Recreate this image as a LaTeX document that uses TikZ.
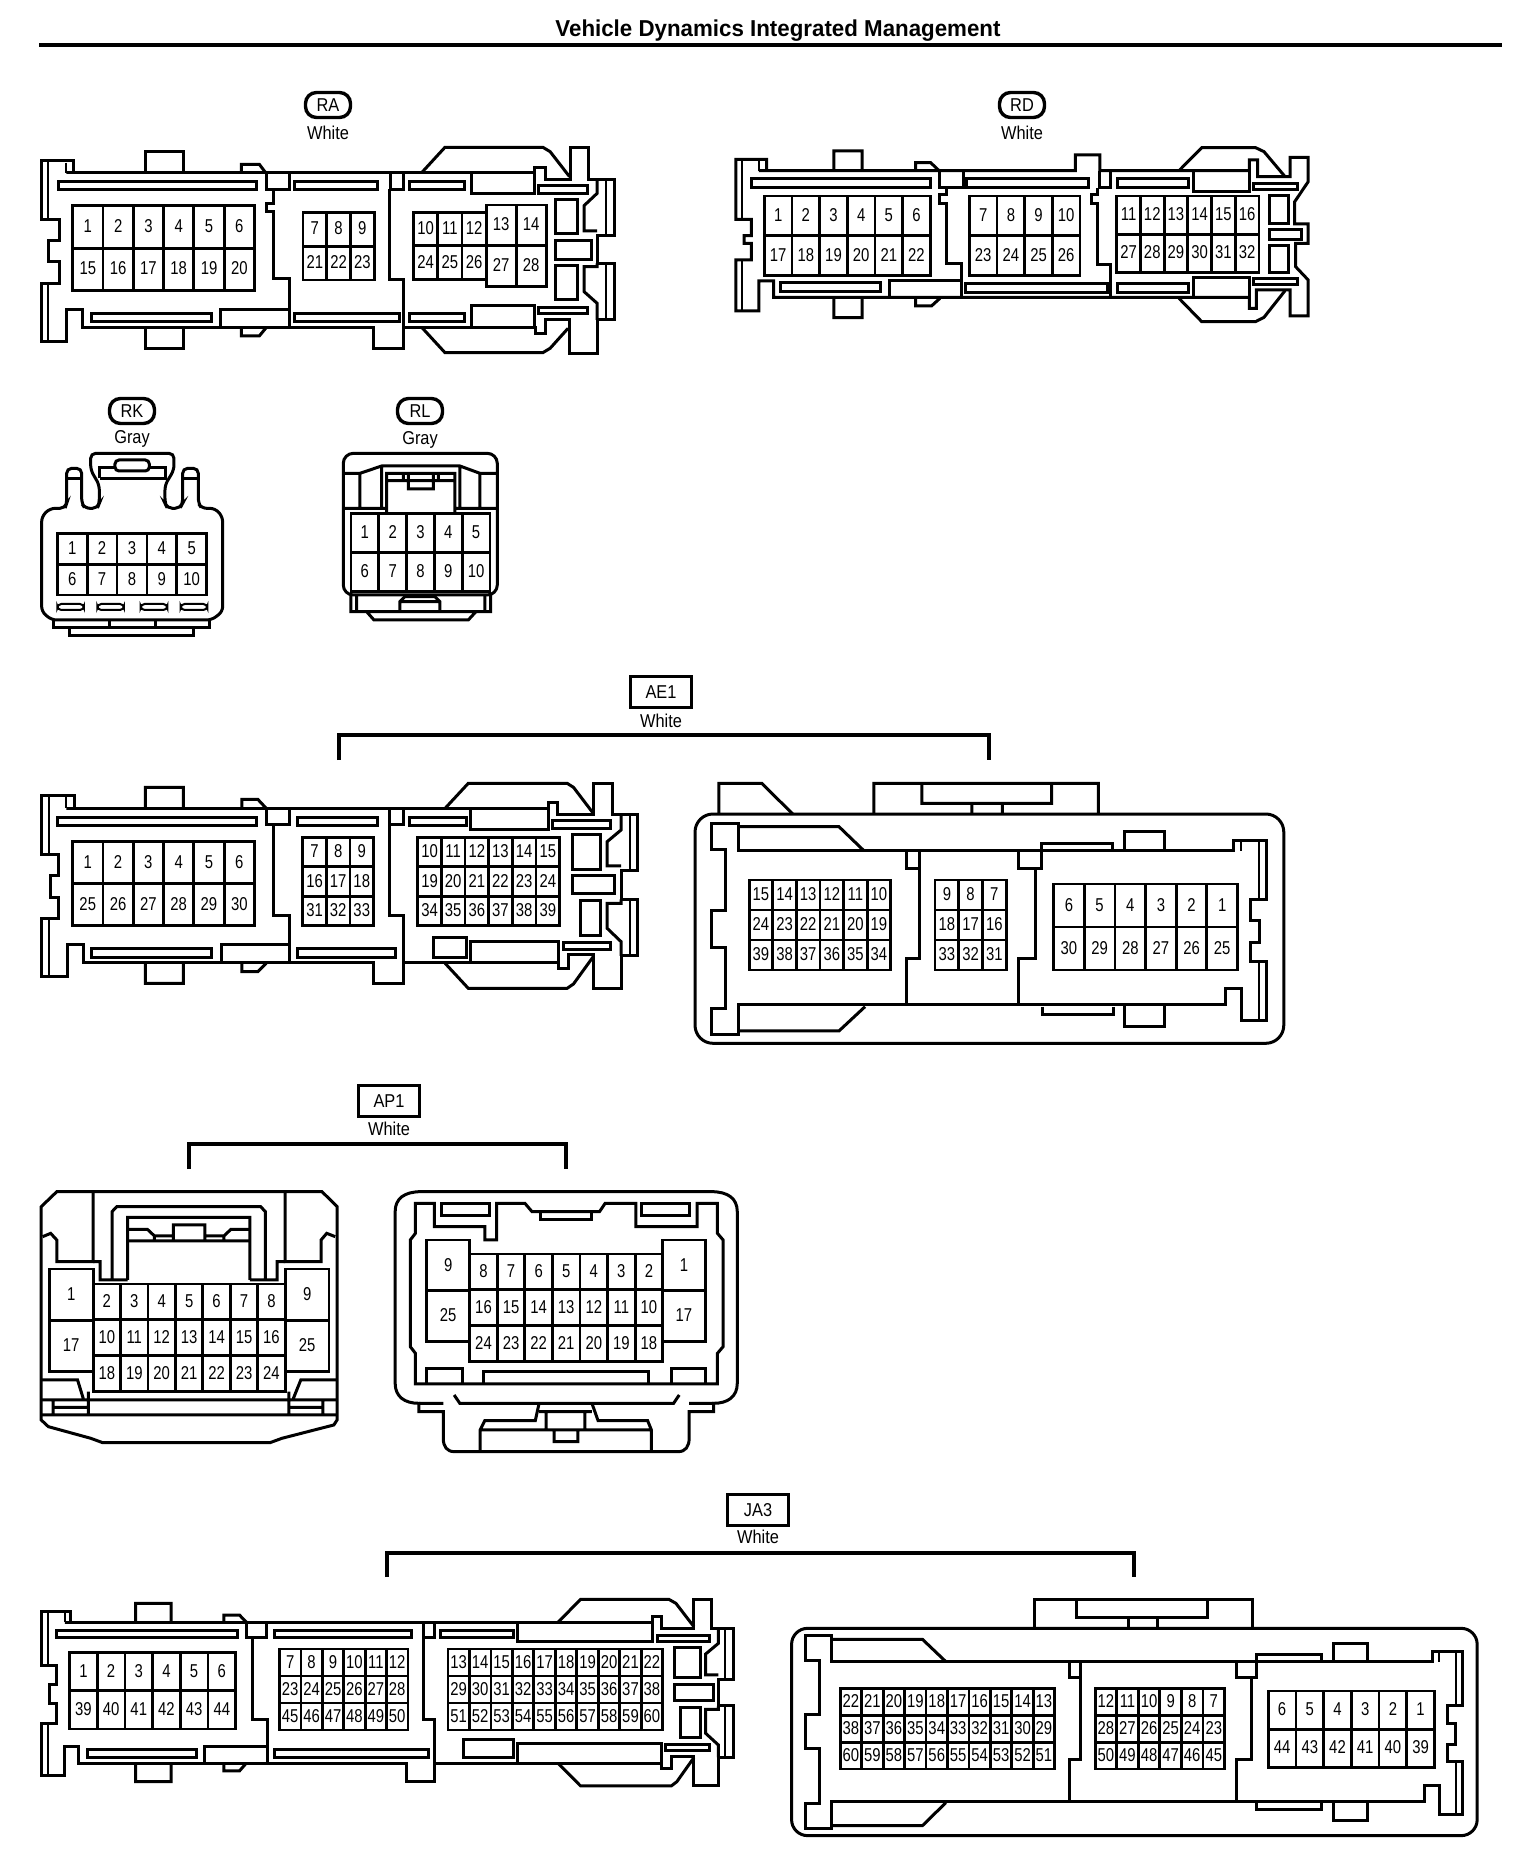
\documentclass[tikz,border=0pt]{standalone}
\usepackage{fontspec}
\setmainfont{Liberation Sans}
\newfontfamily\pinfont[FakeStretch=0.8]{Liberation Sans}
\newfontfamily\lblfont[FakeStretch=0.88]{Liberation Sans}
\newfontfamily\ttlfont[FakeStretch=0.97]{Liberation Sans}
\newcount\pinnum
\tikzset{
  conn/.style={line width=1.5pt,line join=miter},
  thinl/.style={line width=1pt},
  gridl/.style={line width=1.4pt},
  bracket/.style={line width=1.75pt},
  pinlab/.style={inner sep=0pt,yshift=0.4pt,font=\pinfont\fontsize{9.3}{10}\selectfont},
  collab/.style={inner sep=0pt,font=\lblfont\fontsize{9.3}{10}\selectfont},
  roundtag/.style={draw,line width=1.7pt,rounded corners=5.5pt,minimum width=22.5pt,minimum height=12.5pt,inner sep=0pt,font=\lblfont\fontsize{9.3}{10}\selectfont},
  boxtag/.style={draw,line width=1.5pt,minimum width=30.5pt,minimum height=15.5pt,inner sep=0pt,font=\lblfont\fontsize{9.3}{10}\selectfont},
}
\newcommand\pingrid[7]{%
  \draw[gridl] (#1,#2) rectangle (#3,#4);
  \foreach \k in {1,...,#5}{\ifnum\k<#5\relax
    \pgfmathsetmacro\lx{#1+\k*(#3-#1)/#5}\draw[gridl] (\lx,#2) -- (\lx,#4);\fi}
  \foreach \k in {1,...,#6}{\ifnum\k<#6\relax
    \pgfmathsetmacro\ly{#2+\k*(#4-#2)/#6}\draw[gridl] (#1,\ly) -- (#3,\ly);\fi}
  \foreach \l [count=\i from 0] in {#7}{%
    \pgfmathsetmacro\cx{#1+(mod(\i,#5)+0.5)*(#3-#1)/#5}%
    \pgfmathsetmacro\cy{#2+(int(\i/#5)+0.5)*(#4-#2)/#6}%
    \global\advance\pinnum by 1
    \node[pinlab] (pin\the\pinnum) at (\cx,\cy) {\l};}%
}
\begin{document}
\begin{tikzpicture}[x=0.5pt,y=-0.5pt]
\useasboundingbox (0,0) rectangle (1520,1868);
\fill[white] (0,0) rectangle (1520,1868);
% title
\node[inner sep=0pt,font=\ttlfont\bfseries\fontsize{11.5}{13}\selectfont] (title) at (778,31) {Vehicle Dynamics Integrated Management};
\coordinate (ruleL) at (39,45); \coordinate (ruleR) at (1502,45);
\draw[line width=1.75pt] (ruleL) -- (ruleR);
% tags
\node[roundtag] (tagRA) at (328,105) {RA}; \node[collab] (colRA) at (328,133) {White};
\node[roundtag] (tagRD) at (1022,105) {RD}; \node[collab] (colRD) at (1022,133) {White};
\node[roundtag] (tagRK) at (132,411) {RK}; \node[collab] (colRK) at (132,439) {Gray};
\node[roundtag] (tagRL) at (420,411) {RL}; \node[collab] (colRL) at (420,440) {Gray};
\node[boxtag] (tagAE) at (661,692) {AE1}; \node[collab] (colAE) at (661,721) {White};
\node[boxtag] (tagAP) at (389,1101) {AP1}; \node[collab] (colAP) at (389,1129) {White};
\node[boxtag] (tagJA) at (758,1510) {JA3}; \node[collab] (colJA) at (758,1537) {White};
% brackets
\coordinate (a1) at (339,760); \coordinate (a2) at (339,735); \coordinate (a3) at (989,735); \coordinate (a4) at (989,760);
\draw[bracket] (a1) -- (a2) -- (a3) -- (a4);
\coordinate (b1) at (189,1169); \coordinate (b2) at (189,1144); \coordinate (b3) at (566,1144); \coordinate (b4) at (566,1169);
\draw[bracket] (b1) -- (b2) -- (b3) -- (b4);
\coordinate (c1) at (387,1577); \coordinate (c2) at (387,1553); \coordinate (c3) at (1134,1553); \coordinate (c4) at (1134,1577);
\draw[bracket] (c1) -- (c2) -- (c3) -- (c4);

% ---------- RA
\begin{scope}[shift={(0,0)},xscale=0.4847,yscale=0.3333]
\draw[conn] (137,518)--(152,518)--(152,482)--(85,482)--(85,660)--(122,660)--(122,722)--(100,722)--(100,785)--(122,785)--(122,850)--(85,850)--(85,1025)--(137,1025)--(137,928)--(170,928)--(170,982)--(770,982)--(770,1045)--(832,1045)--(832,982)--(1105,982)--(1105,1000)--(1125,1000)--(1125,958)--(1175,958)--(1175,1060)--(1232,1060)--(1232,960)--(1268,960)--(1268,790)--(1232,790)--(1232,708)--(1268,708)--(1268,538)--(1215,538)--(1215,442)--(1178,442)--(1178,540)--(1125,540)--(1125,503)--(1103,503)--(1103,518)--cycle;
\draw[thinl] (100,485)--(100,660) (100,850)--(100,1025) (137,488)--(137,518) (1250,540)--(1250,708) (1250,790)--(1250,960);
\draw[conn] (1232,540)--(1232,580)--(1205,617)--(1205,693)--(1232,693) (1232,790)--(1232,800)--(1205,800)--(1205,875)--(1232,910)--(1232,960);
\draw[conn] (870,518)--(918,442)--(1120,442)--(1135,455)--(1175,530) (870,982)--(918,1058)--(1120,1058)--(1135,1045)--(1172,985);
\draw[conn] (498,518)--(498,493)--(535,493)--(548,518) (498,982)--(498,1008)--(535,1008)--(548,985);
\draw[conn] (300,518)--(300,455)--(378,455)--(378,518) (300,982)--(300,1045)--(378,1045)--(378,982);
\draw[conn] (120,545) rectangle (530,568) (188,940) rectangle (436,965) (607,545) rectangle (778,568) (607,940) rectangle (825,965) (845,545) rectangle (958,568) (845,940) rectangle (958,965) (1112,558) rectangle (1212,580) (1112,922) rectangle (1212,942) (1147,598) rectangle (1192,702) (1147,723) rectangle (1220,778) (1147,797) rectangle (1192,900);
\draw[conn] (973,522)--(973,580)--(1103,580)--(1103,522) (973,980)--(973,918)--(1103,918)--(1103,980);
\draw[conn] (550,518)--(550,568)--(597,568)--(597,518) (565,568)--(565,612)--(550,612)--(550,635)--(565,635)--(565,835)--(597,835)--(597,982) (455,982)--(455,928)--(597,928);
\draw[conn] (805,518)--(805,568)--(832,568)--(832,518) (803,568)--(803,838)--(832,838)--(832,982);
\pingrid{150}{617}{525}{872}{6}{2}{1,2,3,4,5,6,15,16,17,18,19,20}
\pingrid{625}{637}{772}{840}{3}{2}{7,8,9,21,22,23}
\pingrid{853}{637}{1003}{838}{3}{2}{10,11,12,24,25,26}
\pingrid{1003}{615}{1127}{860}{2}{2}{13,14,27,28}
\end{scope}

% ---------- RD
\begin{scope}[shift={(700,80)},xscale=0.4209,yscale=0.3333]
\draw[conn] (140,272)--(158,272)--(158,238)--(85,238)--(85,418)--(122,418)--(122,467)--(105,467)--(105,490)--(122,490)--(122,540)--(85,540)--(85,693)--(140,693)--(140,603)--(175,603)--(175,652)--(1305,652)--(1305,685)--(1322,685)--(1322,630)--(1402,630)--(1402,708)--(1445,708)--(1445,600)--(1415,560)--(1415,490)--(1445,490)--(1445,432)--(1413,432)--(1413,365)--(1445,305)--(1445,232)--(1402,232)--(1402,290)--(1325,290)--(1325,240)--(1305,240)--(1305,272)--(950,272)--(950,225)--(892,225)--(892,272)--cycle;
\draw[thinl] (100,240)--(100,418) (100,540)--(100,693) (140,240)--(140,272);
\draw[conn] (1138,272)--(1192,203)--(1320,203)--(1340,215)--(1390,290) (1138,655)--(1192,725)--(1320,725)--(1340,712)--(1390,632);
\draw[conn] (318,272)--(318,213)--(385,213)--(385,272) (318,652)--(318,713)--(385,713)--(385,652) (512,272)--(512,248)--(548,248)--(568,272) (512,652)--(512,678)--(550,678)--(570,655);
\draw[conn] (122,297) rectangle (548,323) (192,608) rectangle (430,635) (632,297) rectangle (922,323) (630,610) rectangle (968,637) (992,297) rectangle (1160,323) (992,610) rectangle (1160,637) (1315,310) rectangle (1420,330) (1315,597) rectangle (1420,615) (1352,348) rectangle (1398,430) (1352,448) rectangle (1430,478) (1352,497) rectangle (1398,578);
\draw[conn] (1173,272)--(1173,335)--(1305,335)--(1305,272) (1173,652)--(1173,592)--(1305,592)--(1305,652);
\draw[conn] (568,272)--(568,323)--(625,323)--(625,272) (585,323)--(585,345)--(568,345)--(568,372)--(585,372)--(585,550)--(622,550)--(622,652) (450,652)--(450,603)--(622,603);
\draw[conn] (948,272)--(948,323)--(975,323)--(975,272) (945,323)--(945,345)--(930,345)--(930,372)--(945,372)--(945,555)--(975,555)--(975,652);
\pingrid{153}{348}{547}{587}{6}{2}{1,2,3,4,5,6,17,18,19,20,21,22}
\pingrid{640}{348}{903}{587}{4}{2}{7,8,9,10,23,24,25,26}
\pingrid{990}{348}{1328}{577}{6}{2}{11,12,13,14,15,16,27,28,29,30,31,32}
\end{scope}

% ---------- RK / RL
\begin{scope}[shift={(20,390)},scale=0.3333]
\draw[conn,rounded corners=2.5pt] (65,380)--(90,355)--(135,355)--(140,340)--(140,235)--(185,235)--(185,340)--(195,355)--(232,355)--(238,340)--(238,285)--(212,240)--(212,190)--(462,190)--(462,240)--(435,285)--(435,340)--(442,355)--(480,355)--(488,340)--(488,235)--(535,235)--(535,340)--(545,355)--(585,355)--(608,380)--(608,665)--(575,690)--(95,690)--(65,665)--cycle;
\draw[conn] (145,265)--(185,265) (488,265)--(535,265) (240,265)--(240,232)--(285,232) (388,232)--(438,232)--(438,265)--(240,265);
\draw[conn,rounded corners=2pt] (285,210) rectangle (388,243);
\draw[thinl,rounded corners=2pt] (112,642) rectangle (192,660) (232,642) rectangle (312,660) (362,642) rectangle (442,660) (482,642) rectangle (562,660);
\draw[conn] (100,690)--(100,712)--(570,712)--(570,690) (150,712)--(150,737)--(522,737)--(522,712) (268,690)--(268,712) (408,690)--(408,712);
\pingrid{112}{430}{560}{615}{5}{2}{1,2,3,4,5,6,7,8,9,10}
\draw[conn,rounded corners=5pt] (970,190) rectangle (1432,615);
\draw[conn] (970,250)--(1020,250)--(1085,228)--(1320,228)--(1380,250)--(1432,250) (1020,250)--(1020,355) (1085,228)--(1085,355) (1320,228)--(1320,355) (1380,250)--(1380,355) (970,355)--(1100,355) (1305,355)--(1432,355) (1100,368)--(1100,250)--(1305,250)--(1305,368) (1100,272)--(1305,272) (1165,250)--(1165,297)--(1240,297)--(1240,250) (1150,250)--(1150,272) (1255,250)--(1255,272);
\pingrid{993}{370}{1410}{605}{5}{2}{1,2,3,4,5,6,7,8,9,10}
\draw[conn] (993,615)--(993,665)--(1412,665)--(1412,615) (1010,615)--(1010,665) (1395,615)--(1395,665) (1040,665)--(1062,690)--(1345,690)--(1368,665) (1140,665)--(1140,635)--(1155,620)--(1245,620)--(1260,635)--(1260,665) (1140,635)--(1260,635);
\end{scope}

% ---------- AE1 left
\begin{scope}[shift={(20,660)},xscale=0.4209,yscale=0.3333]
\draw[conn] (110,445)--(130,445)--(130,408)--(52,408)--(52,585)--(92,585)--(92,648)--(72,648)--(72,712)--(92,712)--(92,775)--(52,775)--(52,950)--(112,950)--(112,855)--(150,855)--(150,908)--(840,908)--(840,972)--(912,972)--(912,908)--(1280,908)--(1280,925)--(1303,925)--(1303,885)--(1362,885)--(1362,985)--(1428,985)--(1428,888)--(1468,888)--(1468,718)--(1428,718)--(1428,632)--(1468,632)--(1468,465)--(1408,465)--(1408,370)--(1362,370)--(1362,465)--(1278,465)--(1278,427)--(1255,427)--(1255,445)--cycle;
\draw[thinl] (1450,465)--(1450,632) (1450,718)--(1450,888) (68,410)--(68,585) (68,775)--(68,950) (110,410)--(110,445);
\draw[conn] (1428,465)--(1428,510)--(1395,545)--(1395,618)--(1428,618) (1428,718)--(1428,730)--(1395,730)--(1395,805)--(1428,845)--(1428,888);
\draw[conn] (1010,445)--(1065,370)--(1300,370)--(1315,382)--(1362,460) (1010,910)--(1065,985)--(1300,985)--(1315,972)--(1362,890);
\draw[conn] (298,445)--(298,382)--(388,382)--(388,445) (298,908)--(298,970)--(388,970)--(388,908) (527,445)--(527,418)--(565,418)--(585,445) (527,908)--(527,935)--(565,935)--(585,910);
\draw[conn] (90,472) rectangle (562,497) (170,865) rectangle (456,893) (660,472) rectangle (850,497) (660,865) rectangle (893,893) (925,472) rectangle (1060,497) (1265,483) rectangle (1402,507) (1292,848) rectangle (1402,870) (982,832) rectangle (1060,892) (1312,525) rectangle (1380,628) (1312,648) rectangle (1412,702) (1332,723) rectangle (1380,828);
\draw[conn] (1070,447)--(1070,508)--(1255,508)--(1255,447) (1070,908)--(1070,845)--(1280,845)--(1280,908);
\draw[conn] (585,445)--(585,495)--(640,495)--(640,445) (603,495)--(603,767)--(640,767)--(640,908) (478,908)--(478,855)--(640,855);
\draw[conn] (878,445)--(878,495)--(912,495)--(912,445) (878,495)--(878,767)--(912,767)--(912,908);
\pingrid{125}{545}{557}{797}{6}{2}{1,2,3,4,5,6,25,26,27,28,29,30}
\pingrid{672}{532}{840}{797}{3}{3}{7,8,9,16,17,18,31,32,33}
\pingrid{945}{532}{1282}{797}{6}{3}{10,11,12,13,14,15,19,20,21,22,23,24,34,35,36,37,38,39}
\end{scope}

% ---------- AE1 right
\begin{scope}[shift={(680,760)},xscale=0.3954,yscale=0.3333]
\draw[conn,rounded corners=9pt] (38,162) rectangle (1527,850);
\draw[conn] (98,162)--(98,70)--(207,70)--(285,162) (490,162)--(490,70)--(1058,70)--(1058,162) (612,70)--(612,130)--(940,130)--(940,70) (738,130)--(738,162) (815,130)--(815,162);
\draw[conn] (148,272)--(148,190)--(80,190)--(80,268)--(115,268)--(115,452)--(80,452)--(80,562)--(115,562)--(115,745)--(80,745)--(80,825)--(148,825)--(148,735)--(1380,735)--(1380,687)--(1420,687)--(1420,782)--(1483,782)--(1483,605)--(1443,605)--(1443,548)--(1465,548)--(1465,482)--(1443,482)--(1443,418)--(1483,418)--(1483,240)--(1400,240)--(1400,272)--cycle;
\draw[conn] (148,200)--(402,200)--(465,272) (148,813)--(402,813)--(468,740);
\draw[thinl] (1420,240)--(1420,272) (1465,240)--(1465,418) (1465,605)--(1465,782);
\draw[conn] (605,272)--(605,595)--(572,595)--(572,735) (572,272)--(572,325)--(605,325) (855,272)--(855,325)--(915,325)--(915,250)--(1095,250)--(1095,272) (898,325)--(898,595)--(855,595)--(855,735) (1125,272)--(1125,213)--(1225,213)--(1225,272) (1125,735)--(1125,800)--(1225,800)--(1225,735) (917,740)--(917,765)--(1097,765)--(1097,740);
\pingrid{175}{360}{533}{630}{6}{3}{15,14,13,12,11,10,24,23,22,21,20,19,39,38,37,36,35,34}
\pingrid{645}{360}{825}{630}{3}{3}{9,8,7,18,17,16,33,32,31}
\pingrid{945}{372}{1410}{630}{6}{2}{6,5,4,3,2,1,30,29,28,27,26,25}
\end{scope}

% ---------- AP1
\begin{scope}[shift={(20,1070)},xscale=0.4719,yscale=0.3333]
% left
\draw[conn] (45,410)--(78,365)--(640,365)--(672,410)--(672,1050)--(665,1065)--(555,1105)--(530,1118)--(175,1118)--(150,1105)--(60,1070)--(45,1050)--cycle;
\draw[conn] (155,368)--(155,575)--(78,575)--(78,510)--(65,490)--(48,500) (562,368)--(562,575)--(638,575)--(638,510)--(650,490)--(668,500);
\draw[conn] (195,630)--(195,425)--(205,410)--(510,410)--(520,425)--(520,630) (228,630)--(228,442)--(487,442)--(487,630) (155,575)--(170,575)--(170,630)--(228,630) (562,575)--(545,575)--(545,630)--(487,630);
\draw[conn] (228,478)--(270,478)--(285,498)--(325,498) (325,465) rectangle (392,513) (392,498)--(432,498)--(447,478)--(487,478) (228,513)--(487,513) (285,498)--(285,513) (432,498)--(432,513);
\pingrid{155}{642}{562}{965}{7}{3}{2,3,4,5,6,7,8,10,11,12,13,14,15,16,18,19,20,21,22,23,24}
\pingrid{62}{597}{155}{905}{1}{2}{1,17}
\pingrid{562}{597}{655}{905}{1}{2}{9,25}
\draw[conn] (45,930)--(122,930)--(135,990) (672,930)--(595,930)--(578,990) (45,990)--(672,990) (45,1035)--(672,1035) (70,990)--(70,1035) (145,965)--(145,1035) (72,1012)--(145,1012) (570,965)--(570,1035) (642,990)--(642,1035) (570,1012)--(642,1012);
% right
\draw[conn] (795,425) .. controls (795,385) and (815,365) .. (850,365) -- (1465,365) .. controls (1500,365) and (1520,385) .. (1520,425) -- (1520,940) .. controls (1520,980) and (1500,1000) .. (1470,1000) -- (1470,1025) -- (1418,1025) -- (1418,1105) .. controls (1418,1130) and (1410,1145) .. (1395,1145) -- (920,1145) .. controls (905,1145) and (897,1130) .. (897,1105) -- (897,1025) -- (845,1025) -- (845,1000) .. controls (815,1000) and (795,980) .. (795,940) -- cycle;
\draw[conn] (845,1000)--(897,1000) (1418,1000)--(1470,1000) (920,975)--(932,1000)--(1385,1000)--(1397,975);
\draw[conn] (838,400)--(878,400)--(878,470)--(985,470)--(985,510)--(1010,510)--(1010,400)--(1070,400)--(1085,425)--(1228,425)--(1240,400)--(1305,400)--(1305,470)--(1435,470)--(1435,400)--(1478,400)--(1478,490)--(1490,510)--(1490,830)--(1478,850)--(1478,942)--(838,942)--(838,850)--(827,830)--(827,510)--(838,490)--cycle;
\draw[conn] (893,400) rectangle (995,437) (1318,400) rectangle (1418,437) (1103,425)--(1103,450)--(1212,450)--(1212,425);
\pingrid{953}{552}{1362}{875}{7}{3}{8,7,6,5,4,3,2,16,15,14,13,12,11,10,24,23,22,21,20,19,18}
\pingrid{862}{510}{953}{815}{1}{2}{9,25}
\pingrid{1362}{510}{1452}{815}{1}{2}{1,17}
\draw[conn] (862,942)--(862,895)--(937,895)--(937,942) (1380,942)--(1380,895)--(1452,895)--(1452,942) (982,942)--(982,905)--(1332,905)--(1332,942);
\draw[conn] (1100,1000)--(1092,1052)--(985,1052)--(975,1080)--(975,1145) (1212,1000)--(1225,1052)--(1330,1052)--(1338,1080)--(1338,1145) (975,1080)--(1338,1080) (1115,1025) rectangle (1197,1080) (1100,1025)--(1212,1025) (1132,1080)--(1132,1115)--(1182,1115)--(1182,1080);
\end{scope}

% ---------- JA3 left
\begin{scope}[shift={(20,1480)},xscale=0.4719,yscale=0.3333]
\draw[conn] (95,427)--(108,427)--(108,395)--(45,395)--(45,555)--(78,555)--(78,615)--(62,615)--(62,672)--(78,672)--(78,730)--(45,730)--(45,888)--(95,888)--(95,800)--(125,800)--(125,850)--(820,850)--(820,905)--(878,905)--(878,850)--(1360,850)--(1360,865)--(1380,865)--(1380,830)--(1428,830)--(1428,917)--(1480,917)--(1480,832)--(1512,832)--(1512,678)--(1480,678)--(1480,598)--(1512,598)--(1512,445)--(1465,445)--(1465,358)--(1428,358)--(1428,445)--(1360,445)--(1360,410)--(1340,410)--(1340,427)--cycle;
\draw[thinl] (60,397)--(60,555) (60,730)--(60,888) (1495,447)--(1495,598) (1495,678)--(1495,832) (95,397)--(95,427);
\draw[conn] (1480,447)--(1480,490)--(1453,522)--(1453,585)--(1480,585) (1480,678)--(1480,688)--(1453,688)--(1453,760)--(1480,795)--(1480,832);
\draw[conn] (1140,427)--(1188,358)--(1375,358)--(1390,370)--(1428,440) (1140,850)--(1188,918)--(1380,918)--(1392,905)--(1428,833);
\draw[conn] (245,427)--(245,370)--(320,370)--(320,427) (245,850)--(245,905)--(320,905)--(320,850) (432,427)--(432,405)--(465,405)--(480,427) (432,850)--(432,873)--(465,873)--(478,852);
\draw[conn] (78,450) rectangle (460,473) (142,810) rectangle (375,833) (540,450) rectangle (830,473) (540,810) rectangle (865,833) (892,450) rectangle (1045,473) (940,780) rectangle (1045,833) (1350,465) rectangle (1462,483) (1368,795) rectangle (1462,813) (1388,502) rectangle (1442,592) (1388,615) rectangle (1470,662) (1400,682) rectangle (1442,772);
\draw[conn] (1055,430)--(1055,485)--(1340,485)--(1340,430) (1055,850)--(1055,790)--(1360,790)--(1360,850);
\draw[conn] (480,427)--(480,473)--(523,473)--(523,427) (492,473)--(492,718)--(525,718)--(525,850) (390,850)--(390,800)--(525,800);
\draw[conn] (855,427)--(855,473)--(878,473)--(878,427) (855,473)--(855,718)--(878,718)--(878,850);
\pingrid{105}{517}{457}{747}{6}{2}{1,2,3,4,5,6,39,40,41,42,43,44}
\pingrid{550}{507}{822}{750}{6}{3}{7,8,9,10,11,12,23,24,25,26,27,28,45,46,47,48,49,50}
\pingrid{907}{507}{1362}{750}{10}{3}{13,14,15,16,17,18,19,20,21,22,29,30,31,32,33,34,35,36,37,38,51,52,53,54,55,56,57,58,59,60}
\end{scope}

% ---------- JA3 right
\begin{scope}[shift={(770,1480)},xscale=0.4592,yscale=0.3333]
\draw[conn,rounded corners=8pt] (47,445) rectangle (1540,1067);
\draw[conn] (575,445)--(575,358)--(1050,358)--(1050,445) (668,358)--(668,412)--(953,412)--(953,358) (780,412)--(780,445) (843,412)--(843,445);
\draw[conn] (133,545)--(133,467)--(78,467)--(78,540)--(107,540)--(107,705)--(78,705)--(78,805)--(107,805)--(107,970)--(78,970)--(78,1047)--(133,1047)--(133,965)--(1425,965)--(1425,918)--(1457,918)--(1457,1005)--(1508,1005)--(1508,845)--(1475,845)--(1475,795)--(1493,795)--(1493,732)--(1475,732)--(1475,677)--(1508,677)--(1508,515)--(1442,515)--(1442,545)--cycle;
\draw[conn] (133,478)--(332,478)--(383,545) (133,1037)--(332,1037)--(383,968);
\draw[thinl] (1457,515)--(1457,545) (1493,515)--(1493,677) (1493,845)--(1493,1005);
\draw[conn] (677,545)--(677,838)--(652,838)--(652,965) (652,545)--(652,592)--(677,592) (1015,545)--(1015,592)--(1060,592)--(1060,522)--(1202,522)--(1202,545) (1048,592)--(1048,838)--(1015,838)--(1015,965) (1227,545)--(1227,490)--(1302,490)--(1302,545) (1227,965)--(1227,1022)--(1302,1022)--(1302,965) (1060,968)--(1060,990)--(1202,990)--(1202,968);
\pingrid{153}{625}{620}{867}{10}{3}{22,21,20,19,18,17,16,15,14,13,38,37,36,35,34,33,32,31,30,29,60,59,58,57,56,55,54,53,52,51}
\pingrid{708}{625}{990}{867}{6}{3}{12,11,10,9,8,7,28,27,26,25,24,23,50,49,48,47,46,45}
\pingrid{1085}{633}{1447}{862}{6}{2}{6,5,4,3,2,1,44,43,42,41,40,39}
\end{scope}
\end{tikzpicture}
\end{document}
